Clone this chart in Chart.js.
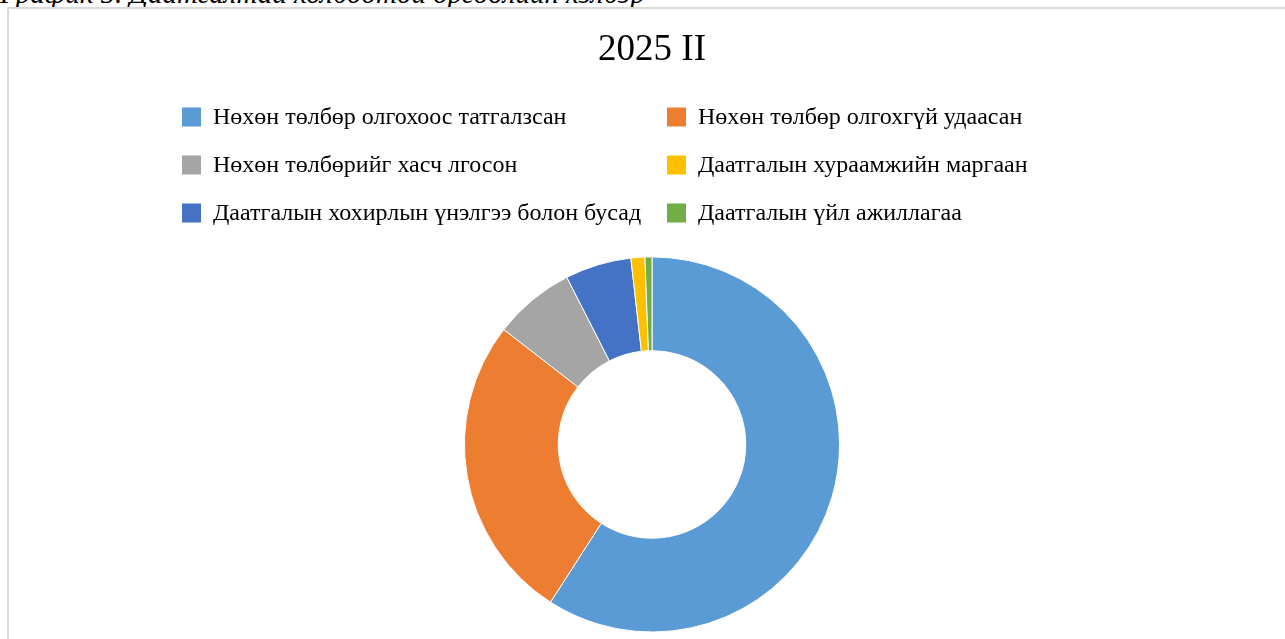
<!DOCTYPE html>
<html lang="mn">
<head>
<meta charset="utf-8">
<title>2025 II</title>
<script src="https://cdn.jsdelivr.net/npm/chart.js@4.4.1/dist/chart.umd.min.js"></script>
<style>
    html, body { margin: 0; padding: 0; background: #fff; overflow: hidden; }
    body { width: 1285px; height: 639px; position: relative; }
    #caption {
        position: absolute; left: 0; top: -23px;
        font: italic 29px 'Liberation Serif', 'Times New Roman', serif;
        white-space: nowrap; color: #000;
    }
    #frame {
        position: absolute; left: 7px; top: 7px; width: 1400px; height: 700px;
        border-left: 2px solid #d9d9d9; border-top: 2px solid #d9d9d9;
    }
    #chartCanvas { position: absolute; left: 0; top: 0; }
</style>
</head>
<body>
<div id="caption">График 5. Даатгалтай холбоотой өргөдлийн хэлбэр</div>
<div id="frame"></div>
<canvas id="chartCanvas" width="1285" height="639"></canvas>

<script>
// Ангилал (цагийн зүүний дагуу, дээрээс эхлэн)
const labels = [
    'Нөхөн төлбөр олгохоос татгалзсан',
    'Нөхөн төлбөр олгохгүй удаасан',
    'Нөхөн төлбөрийг хасч лгосон',
    'Даатгалын хохирлын үнэлгээ болон бусад',
    'Даатгалын хураамжийн маргаан',
    'Даатгалын үйл ажиллагаа'
];

// Эзлэх хувь (%)
const values = [59.1, 26.4, 7.0, 5.7, 1.2, 0.6];

const colors = ['#5B9BD5', '#ED7D31', '#A5A5A5', '#4472C4', '#FFC000', '#70AD47'];

// Тайлбарын дараалал (2 баганаар, мөрөөр)
const legendOrder = [0, 1, 2, 4, 3, 5];

const serif = "'Liberation Serif', 'Times New Roman', serif";

// Хоёр баганатай тайлбар зурах plugin
const gridLegend = {
    id: 'gridLegend',
    afterDraw(chart, args, opts) {
        const ctx = chart.ctx;
        const ds = chart.data.datasets[0];
        ctx.save();
        ctx.font = opts.font;
        ctx.textBaseline = 'middle';
        ctx.textAlign = 'left';
        opts.order.forEach((idx, i) => {
            const col = i % 2;
            const row = Math.floor(i / 2);
            const x = opts.columns[col];
            const y = opts.top + row * opts.rowGap;
            ctx.fillStyle = ds.backgroundColor[idx];
            ctx.fillRect(x, y - opts.box / 2, opts.box, opts.box);
            ctx.fillStyle = opts.color;
            ctx.fillText(chart.data.labels[idx], x + opts.box + opts.gap, y + 1);
        });
        ctx.restore();
    }
};

const ctx = document.getElementById('chartCanvas').getContext('2d');

const chart = new Chart(ctx, {
    type: 'doughnut',
    data: {
        labels: labels,
        datasets: [{
            data: values,
            backgroundColor: colors,
            borderColor: '#ffffff',
            borderWidth: 1
        }]
    },
    options: {
        responsive: false,
        animation: false,
        cutout: '50%',
        layout: {
            padding: { left: 19, right: 0, top: 0, bottom: 6.5 }
        },
        plugins: {
            legend: { display: false },
            tooltip: { enabled: false },
            title: {
                display: true,
                text: '2025 II',
                color: '#000',
                font: { family: serif, size: 37, weight: 'normal', lineHeight: 1.2 },
                padding: { top: 28, bottom: 184 }
            },
            gridLegend: {
                order: legendOrder,
                columns: [182, 667],
                top: 117,
                rowGap: 48,
                box: 19,
                gap: 12,
                font: '24px ' + serif,
                color: '#000'
            }
        }
    },
    plugins: [gridLegend]
});
</script>
</body>
</html>
